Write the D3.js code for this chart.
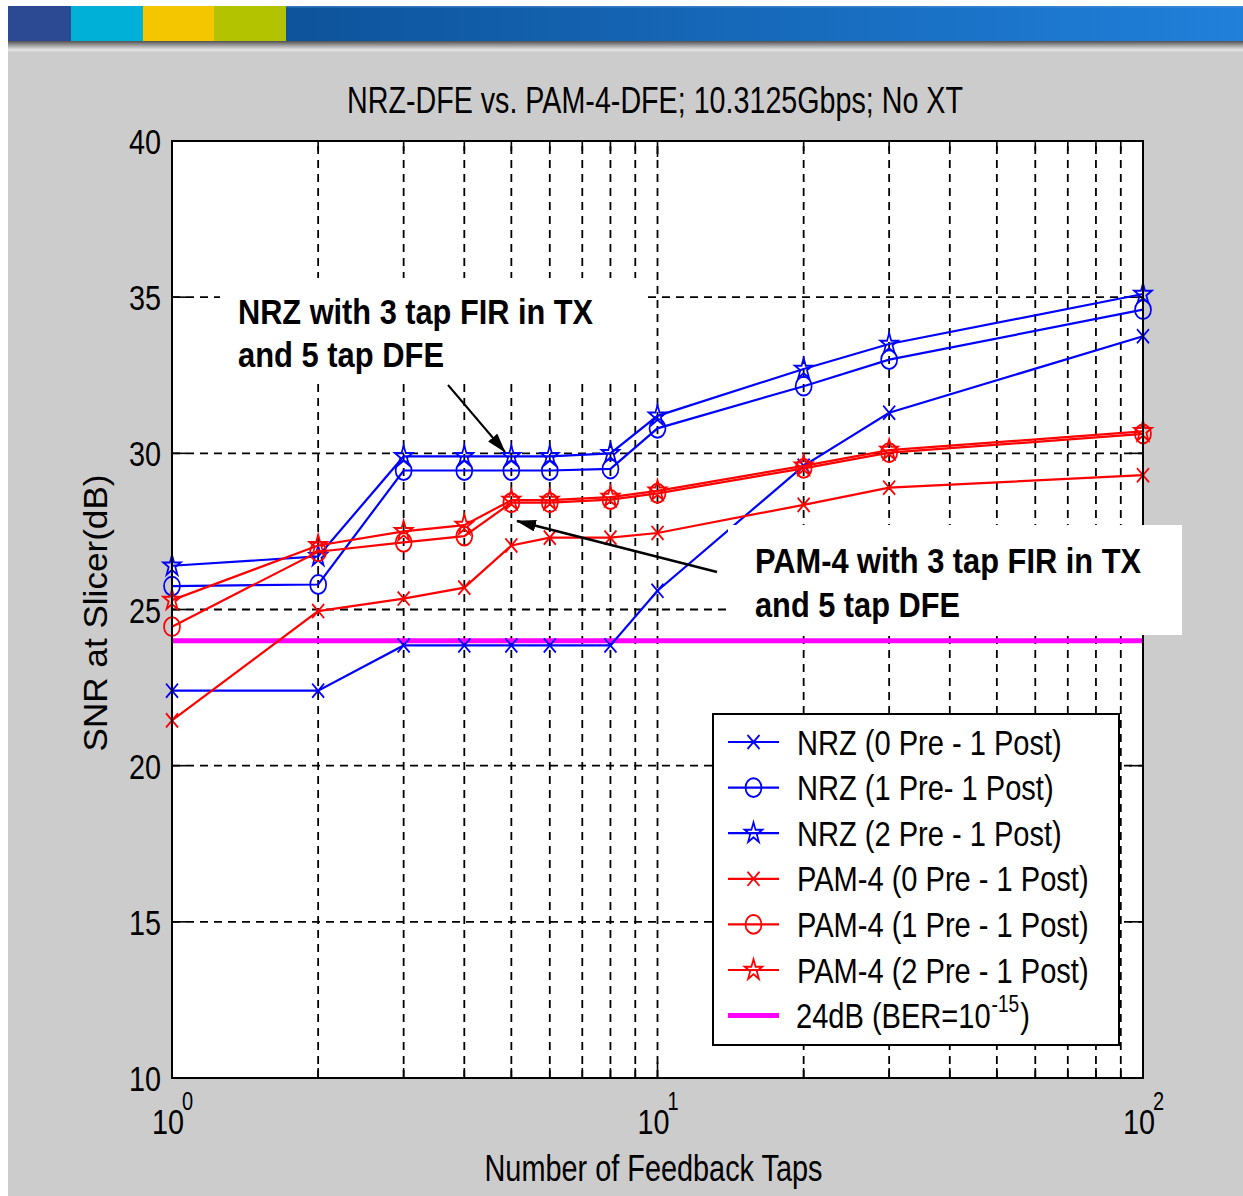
<!DOCTYPE html>
<html><head><meta charset="utf-8">
<script src="https://cdn.jsdelivr.net/npm/d3@7"></script>
<style>html,body{margin:0;padding:0;background:#fff;} svg{display:block;}</style>
</head><body>
<script>
// ---------------- data ----------------
const taps = [1, 2, 3, 4, 5, 6, 8, 10, 20, 30, 100];
const nrz0 = [22.4, 22.4, 23.85, 23.85, 23.85, 23.85, 23.85, 25.6, 29.6, 31.3, 33.75];
const nrz1 = [25.75, 25.8, 29.45, 29.45, 29.45, 29.45, 29.5, 30.8, 32.15, 33.0, 34.6];
const nrz2 = [26.4, 26.7, 29.9, 29.9, 29.9, 29.9, 30.0, 31.2, 32.7, 33.5, 35.1];
const pam0 = [21.45, 24.95, 25.35, 25.7, 27.05, 27.3, 27.3, 27.45, 28.35, 28.9, 29.3];
const pam1 = [24.45, 26.85, 27.15, 27.35, 28.42, 28.42, 28.52, 28.72, 29.52, 30.02, 30.62];
const pam2 = [25.3, 27.05, 27.5, 27.7, 28.5, 28.5, 28.6, 28.8, 29.6, 30.1, 30.7];
const threshold = 24;
const seriesNames = ["NRZ (0 Pre - 1 Post)", "NRZ (1 Pre- 1 Post)", "NRZ (2 Pre - 1 Post)",
  "PAM-4 (0 Pre - 1 Post)", "PAM-4 (1 Pre - 1 Post)", "PAM-4 (2 Pre - 1 Post)"];
const thresholdLabel = ["24dB (BER=10", "-15", ")"];
const yTickValues = [10, 15, 20, 25, 30, 35, 40];
const yGridValues = [15, 20, 25, 30, 35];
const xDecades = [1, 10, 100];
const xExponents = ["0", "1", "2"];
const xGridValues = [2, 3, 4, 5, 6, 7, 8, 9, 10, 20, 30, 40, 50, 60, 70, 80, 90];
const titleText = "NRZ-DFE vs. PAM-4-DFE; 10.3125Gbps; No XT";
const xLabelText = "Number of Feedback Taps";
const yLabelText = "SNR at Slicer(dB)";
const noteNRZ = ["NRZ with 3 tap FIR in TX", "and 5 tap DFE"];
const notePAM = ["PAM-4 with 3 tap FIR in TX", "and 5 tap DFE"];

// ---------------- styles ----------------
const seriesData = [nrz0, nrz1, nrz2, pam0, pam1, pam2];
const seriesColor = ["#0000ff", "#0000ff", "#0000ff", "#ff0000", "#ff0000", "#ff0000"];
const seriesMarker = ["x", "o", "star", "x", "o", "star"];
const FONT = "'Liberation Sans', Arial, Helvetica, sans-serif";

const W = 1243, H = 1196;
const svg = d3.select("body").append("svg").attr("width", W).attr("height", H);
const defs = svg.append("defs");

const bg = defs.append("linearGradient").attr("id", "bannerGrad").attr("x1", "0").attr("x2", "1").attr("y1", "0").attr("y2", "0");
bg.append("stop").attr("offset", "0").attr("stop-color", "#084689");
bg.append("stop").attr("offset", "1").attr("stop-color", "#2080da");
const sh = defs.append("linearGradient").attr("id", "shadowGrad").attr("x1", "0").attr("x2", "0").attr("y1", "0").attr("y2", "1");
sh.append("stop").attr("offset", "0").attr("stop-color", "#505050");
sh.append("stop").attr("offset", "0.45").attr("stop-color", "#a8a8a8");
sh.append("stop").attr("offset", "0.8").attr("stop-color", "#e4e4e4");
sh.append("stop").attr("offset", "1").attr("stop-color", "#d0d0d0");
defs.append("marker").attr("id", "arrowHead").attr("viewBox", "0 0 20 12")
  .attr("refX", 19).attr("refY", 6).attr("markerWidth", 20).attr("markerHeight", 12)
  .attr("markerUnits", "userSpaceOnUse").attr("orient", "auto")
  .append("path").attr("d", "M0,0 L20,6 L0,12 Z").attr("fill", "#000");

// page background
svg.append("rect").attr("width", W).attr("height", H).attr("fill", "#fff");
svg.append("rect").attr("x", 8).attr("y", 41).attr("width", W - 8).attr("height", H - 41).attr("fill", "#cccccc");
// banner
svg.append("rect").attr("x", 8).attr("y", 6).attr("width", W - 8).attr("height", 35).attr("fill", "url(#bannerGrad)");
svg.append("rect").attr("x", 8).attr("y", 6).attr("width", W - 8).attr("height", 1.5).attr("fill", "#4f8fd6").attr("opacity", 0.6);
const blocks = [["#2c4a93", 8, 71], ["#00b0d6", 71, 143], ["#f3c600", 143, 214], ["#b4c300", 214, 286]];
blocks.forEach(b => svg.append("rect").attr("x", b[1]).attr("y", 6).attr("width", b[2] - b[1]).attr("height", 35).attr("fill", b[0]));
svg.append("rect").attr("x", 8).attr("y", 41).attr("width", W - 8).attr("height", 11).attr("fill", "url(#shadowGrad)");

// ---------------- scales ----------------
const x = d3.scaleLog().domain([1, 100]).range([172, 1143]);
const y = d3.scaleLinear().domain([10, 40]).range([1078, 141]);

// plot area
svg.append("rect").attr("x", x(1)).attr("y", y(40)).attr("width", x(100) - x(1)).attr("height", y(10) - y(40)).attr("fill", "#fff");

// gridlines
const grid = svg.append("g").attr("stroke", "#000").attr("stroke-width", 1.8).attr("stroke-dasharray", "8,6").attr("fill", "none");
grid.selectAll("line.v").data(xGridValues).join("line").attr("class", "v")
  .attr("x1", d => x(d)).attr("x2", d => x(d)).attr("y1", y(10)).attr("y2", y(40));
grid.selectAll("line.h").data(yGridValues).join("line").attr("class", "h")
  .attr("x1", x(1)).attr("x2", x(100)).attr("y1", d => y(d)).attr("y2", d => y(d));

// axis ticks (inside, all four sides)
const tk = svg.append("g").attr("stroke", "#000").attr("stroke-width", 1.6);
xGridValues.forEach(v => {
  const L = (v === 10) ? 16 : 10;
  tk.append("line").attr("x1", x(v)).attr("x2", x(v)).attr("y1", y(10)).attr("y2", y(10) - L);
  tk.append("line").attr("x1", x(v)).attr("x2", x(v)).attr("y1", y(40)).attr("y2", y(40) + L);
});
yGridValues.forEach(v => {
  tk.append("line").attr("x1", x(1)).attr("x2", x(1) + 14).attr("y1", y(v)).attr("y2", y(v));
  tk.append("line").attr("x1", x(100)).attr("x2", x(100) - 14).attr("y1", y(v)).attr("y2", y(v));
});

// threshold line
svg.append("line").attr("x1", x(1)).attr("x2", x(100)).attr("y1", y(threshold)).attr("y2", y(threshold))
  .attr("stroke", "#ff00ff").attr("stroke-width", 5);

// marker drawing
function drawMarker(g, type, cx, cy, color) {
  const m = g.append("g").attr("transform", `translate(${cx},${cy}) scale(1,1.18)`);
  if (type === "x") {
    const p = d3.path(); p.moveTo(-6, -6); p.lineTo(6, 6); p.moveTo(-6, 6); p.lineTo(6, -6);
    m.append("path").attr("d", p.toString()).attr("stroke", color).attr("stroke-width", 1.7).attr("fill", "none");
  } else if (type === "o") {
    m.append("path").attr("d", d3.symbol(d3.symbolCircle, Math.PI * 64)()).attr("stroke", color).attr("stroke-width", 1.7).attr("fill", "none");
  } else {
    m.append("path").attr("d", d3.symbol(d3.symbolStar, 95)()).attr("stroke", color).attr("stroke-width", 1.7).attr("fill", "none");
  }
}

// series
const line = d3.line().x(d => x(d[0])).y(d => y(d[1]));
seriesData.forEach((vals, i) => {
  const pts = taps.map((t, j) => [t, vals[j]]);
  const g = svg.append("g");
  g.append("path").attr("d", line(pts)).attr("fill", "none").attr("stroke", seriesColor[i]).attr("stroke-width", 2.2);
  pts.forEach(p => drawMarker(g, seriesMarker[i], x(p[0]), y(p[1]), seriesColor[i]));
});

// axes box
svg.append("rect").attr("x", x(1)).attr("y", y(40)).attr("width", x(100) - x(1)).attr("height", y(10) - y(40))
  .attr("fill", "none").attr("stroke", "#000").attr("stroke-width", 2);

// tick labels
const SX = 0.8;
function sText(g, str, tx, ty, size, anchor, sx) {
  return g.append("text").attr("transform", `translate(${tx},${ty}) scale(${sx},1)`)
    .attr("text-anchor", anchor).attr("font-family", FONT).attr("font-size", size).attr("fill", "#000").text(str);
}
const labels = svg.append("g");
yTickValues.forEach(v => sText(labels, String(v), 161, y(v) + 13, 36, "end", SX));
xDecades.forEach((v, i) => {
  sText(labels, "10", x(v) - 4, 1134, 36, "middle", SX);
  sText(labels, xExponents[i], x(v) + 10, 1110, 25, "start", SX);
});

// title and axis labels
svg.append("text").attr("x", 655).attr("y", 113).attr("text-anchor", "middle").attr("font-family", FONT)
  .attr("font-size", 36).attr("textLength", 616).attr("lengthAdjust", "spacingAndGlyphs").text(titleText);
svg.append("text").attr("x", 653.5).attr("y", 1181).attr("text-anchor", "middle").attr("font-family", FONT)
  .attr("font-size", 36).attr("textLength", 338).attr("lengthAdjust", "spacingAndGlyphs").text(xLabelText);
svg.append("text").attr("transform", "translate(107,613) rotate(-90)").attr("text-anchor", "middle").attr("font-family", FONT)
  .attr("font-size", 33).attr("textLength", 277).attr("lengthAdjust", "spacingAndGlyphs").text(yLabelText);

// legend
const lg = svg.append("g");
lg.append("rect").attr("x", 713).attr("y", 714).attr("width", 406).attr("height", 331)
  .attr("fill", "#fff").attr("stroke", "#000").attr("stroke-width", 2);
const rowY = i => 742 + i * 45.6;
const LSX = 0.83;
seriesNames.forEach((name, i) => {
  const ry = rowY(i);
  lg.append("line").attr("x1", 728).attr("x2", 779).attr("y1", ry).attr("y2", ry).attr("stroke", seriesColor[i]).attr("stroke-width", 2.2);
  drawMarker(lg, seriesMarker[i], 753.5, ry, seriesColor[i]);
  sText(lg, name, 797, ry + 12.5, 35, "start", LSX);
});
{
  const ry = rowY(6);
  lg.append("line").attr("x1", 728).attr("x2", 779).attr("y1", ry).attr("y2", ry).attr("stroke", "#ff00ff").attr("stroke-width", 5);
  const base = sText(lg, thresholdLabel[0], 796, ry + 12.5, 35, "start", LSX);
  const bw = base.node().getComputedTextLength() * LSX;
  const sup = sText(lg, thresholdLabel[1], 796 + bw + 1, ry - 4, 23, "start", LSX);
  const sw = sup.node().getComputedTextLength() * LSX;
  sText(lg, thresholdLabel[2], 796 + bw + sw + 2, ry + 12.5, 35, "start", LSX);
}

// annotations
function note(lines, bx, by, bw, bh, tx, ty, widths) {
  const g = svg.append("g");
  g.append("rect").attr("x", bx).attr("y", by).attr("width", bw).attr("height", bh).attr("fill", "#fff");
  lines.forEach((s, i) => g.append("text").attr("x", tx).attr("y", ty + i * 43.5)
    .attr("font-family", FONT).attr("font-weight", "bold").attr("font-size", 35)
    .attr("textLength", widths[i]).attr("lengthAdjust", "spacingAndGlyphs").text(s));
}
note(noteNRZ, 220, 278, 423, 105, 238, 323.5, [355, 206]);
note(notePAM, 728, 525, 454, 110, 755, 573, [386, 205]);

// arrows
svg.append("line").attr("x1", 448).attr("y1", 385).attr("x2", 505).attr("y2", 452)
  .attr("stroke", "#000").attr("stroke-width", 2).attr("marker-end", "url(#arrowHead)");
svg.append("line").attr("x1", 717).attr("y1", 572).attr("x2", 517).attr("y2", 521)
  .attr("stroke", "#000").attr("stroke-width", 2.4).attr("marker-end", "url(#arrowHead)");
</script>
</body></html>
